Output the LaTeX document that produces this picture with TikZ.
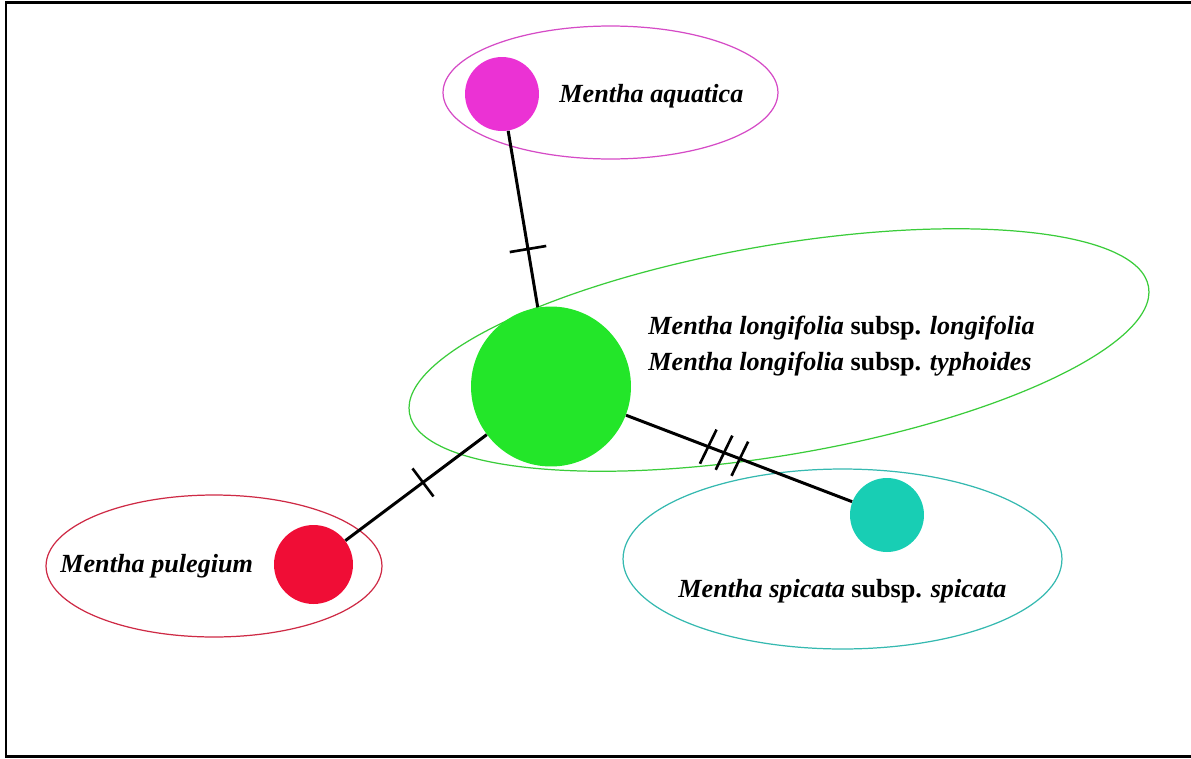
\documentclass[tikz,border=0pt]{standalone}
\usepackage{fontspec}
\setmainfont{Liberation Serif}
\usetikzlibrary{shapes.geometric,calc}
\definecolor{magfill}{HTML}{EB32D4}
\definecolor{magline}{HTML}{D54BC6}
\definecolor{grnfill}{HTML}{23E629}
\definecolor{grnline}{HTML}{3ACC3A}
\definecolor{redfill}{HTML}{F00D36}
\definecolor{redline}{HTML}{CE2A45}
\definecolor{tealfill}{HTML}{18CEB4}
\definecolor{tealline}{HTML}{35B9B0}
\tikzset{
  group/.style={ellipse, draw=#1, line width=0.7pt, inner sep=0pt},
  hap/.style={circle, fill=#1, inner sep=0pt, draw=none},
  link/.style={line width=1.7pt, black},
  tickmark/.style={line width=1.5pt, black},
  label/.style={anchor=base west, inner sep=0pt, font=\fontsize{14.9pt}{20.4pt}\selectfont\bfseries}
}
\begin{document}
\begin{tikzpicture}[x=0.02cm, y=-0.02cm]
\useasboundingbox (0,0) rectangle (1191,758);
% frame
\draw[line width=0.06cm] (1191,2.5) -- (6,2.5) -- (6,756) -- (1191,756);
% groups
\node[group=magline, minimum width=6.7cm, minimum height=2.66cm] (gaq) at (610.5,92.5) {};
\node[group=grnline, minimum width=15cm, minimum height=4.2cm, rotate=9.7] (glf) at (779,350) {};
\node[group=redline, minimum width=6.72cm, minimum height=2.84cm] (gpu) at (214,566) {};
\node[group=tealline, minimum width=8.78cm, minimum height=3.6cm] (gsp) at (842.5,559) {};
% haplotypes
\node[hap=magfill, minimum size=1.48cm] (aq) at (502,94) {};
\node[hap=grnfill, minimum size=3.2cm] (lf) at (551,386.5) {};
\node[hap=redfill, minimum size=1.58cm] (pu) at (313.5,564.5) {};
\node[hap=tealfill, minimum size=1.48cm] (sp) at (887,515) {};
% connectors
\draw[link] (aq) -- (lf);
\draw[link] (lf) -- (pu);
\draw[link] (lf) -- (sp);
% mutation ticks
\coordinate (t1) at ($(aq)!0.53!(lf)$);
\draw[tickmark] ($(t1)!0.37cm!90:(lf)$) -- ($(t1)!0.37cm!-90:(lf)$);
\coordinate (t2) at ($(lf)!0.539!(pu)$);
\draw[tickmark] ($(t2)!0.35cm!90:(pu)$) -- ($(t2)!0.35cm!-90:(pu)$);
\foreach \t [count=\i] in {0.468,0.515,0.562}{
  \coordinate (s\i) at ($(lf)!\t!(sp)$);
  \draw[tickmark] ($(s\i)!0.38cm!85:(sp)$) -- ($(s\i)!0.38cm!-95:(sp)$);
}
% labels
\node[label] (laq) at (559,102) {\itshape Mentha aquatica};
\node[label] (lpu) at (60,572) {\itshape Mentha pulegium};
\node[label] (llf1) at (648,334) {\textit{Mentha longifolia} subsp. \textit{longifolia}};
\node[label] (llf2) at (648,370) {\textit{Mentha longifolia} subsp. \textit{typhoides}};
\node[label] (lsp) at (678,597) {\textit{Mentha spicata} subsp. \textit{spicata}};
\end{tikzpicture}
\end{document}
